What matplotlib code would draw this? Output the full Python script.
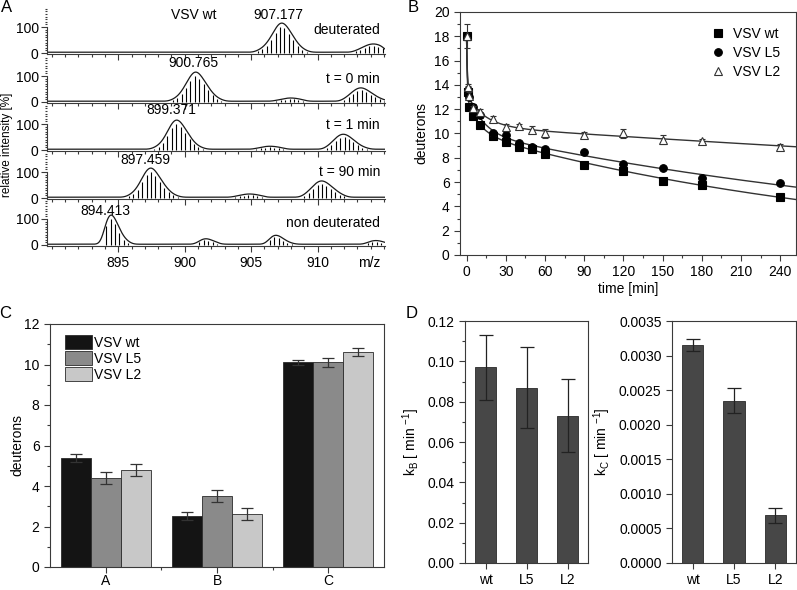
import numpy as np
import matplotlib
matplotlib.use('Agg')
import matplotlib.pyplot as plt
from matplotlib.ticker import MultipleLocator, FormatStrFormatter
from matplotlib.lines import Line2D
from matplotlib.patches import Patch

plt.rcParams['font.family'] = ['Liberation Sans', 'DejaVu Sans']
plt.rcParams['mathtext.fontset'] = 'custom'
plt.rcParams['mathtext.rm'] = 'Liberation Sans'
plt.rcParams['font.size'] = 10

# ---------------- data ----------------
# A: isotope clusters, (m/z of first isotope, stick intensities), spacing 1/3 (z = 3)
iso_step = 1.0 / 3.0
spec_deut = [(905.51, [6, 14, 28, 50, 78, 100, 95, 75, 50, 28, 13, 5]),
             (912.90, [6, 12, 20, 26, 28, 25, 20])]
spec_t0 = [(899.10, [6, 14, 30, 55, 82, 100, 90, 68, 45, 25, 12, 5]),
           (906.90, [3, 6, 9, 11, 10, 8, 5]),
           (912.00, [8, 18, 32, 42, 45, 38, 28, 18, 10, 5])]
spec_t1 = [(897.70, [5, 13, 28, 55, 85, 100, 88, 65, 42, 22, 10, 4]),
           (905.40, [3, 6, 9, 10, 9, 7, 4]),
           (910.70, [8, 20, 36, 48, 50, 42, 30, 18, 9, 4])]
spec_t90 = [(895.79, [6, 15, 32, 60, 88, 100, 85, 62, 40, 22, 10, 4]),
            (903.80, [3, 6, 9, 11, 10, 8, 5]),
            (909.00, [8, 20, 36, 50, 55, 48, 36, 24, 13, 6])]
spec_nondeut = [(894.08, [75, 100, 80, 45, 20, 8]),
                (901.10, [10, 18, 17, 11, 5]),
                (906.40, [18, 30, 27, 17, 8, 3]),
                (913.80, [6, 11, 12, 9, 5])]
spectra = [spec_deut, spec_t0, spec_t1, spec_t90, spec_nondeut]
state_labels = ['deuterated', 't = 0 min', 't = 1 min', 't = 90 min', 'non deuterated']
peak_labels = ['907.177', '900.765', '899.371', '897.459', '894.413']
mz_ticks = [895, 900, 905, 910]

# B: deuteration kinetics
times = [0, 1, 2, 5, 10, 20, 30, 40, 50, 60, 90, 120, 150, 180, 240]
d_wt = [18.0, 13.4, 12.2, 11.4, 10.7, 9.8, 9.3, 8.9, 8.7, 8.3, 7.4, 6.9, 6.05, 5.8, 4.8]
d_L5 = [18.0, 13.6, 13.0, 12.2, 11.5, 10.0, 9.9, 9.2, 8.9, 8.7, 8.5, 7.5, 7.2, 6.3, 5.9]
d_L2 = [18.0, 13.8, 13.1, 12.1, 11.8, 11.2, 10.5, 10.6, 10.3, 10.0, 9.9, 10.0, 9.5, 9.4, 8.9]
e_wt = [0.3, 0.3, 0.2, 0.2, 0.2, 0.2, 0.2, 0.15, 0.15, 0.15, 0.15, 0.15, 0.15, 0.15, 0.1]
e_L5 = [0.3, 0.3, 0.2, 0.2, 0.2, 0.2, 0.2, 0.15, 0.15, 0.15, 0.15, 0.15, 0.15, 0.15, 0.1]
e_L2 = [1.0, 0.3, 0.3, 0.2, 0.2, 0.2, 0.3, 0.2, 0.3, 0.4, 0.2, 0.4, 0.35, 0.15, 0.25]
variants = ['VSV wt', 'VSV L5', 'VSV L2']
k_fast = [1.5, 1.5, 1.5]

# C: amplitudes of the three exchange classes
classes = ['A', 'B', 'C']
amp_wt = [5.4, 2.5, 10.1]
amp_L5 = [4.4, 3.5, 10.1]
amp_L2 = [4.8, 2.6, 10.6]
amp_wt_err = [0.2, 0.2, 0.1]
amp_L5_err = [0.3, 0.3, 0.2]
amp_L2_err = [0.3, 0.3, 0.2]

# D: rate constants
short_names = ['wt', 'L5', 'L2']
kB = [0.097, 0.087, 0.073]
kB_err = [0.016, 0.020, 0.018]
kC = [0.00315, 0.00235, 0.00069]
kC_err = [0.00009, 0.00018, 0.00011]

# ---------------- layout ----------------
W, H = 797, 590
fig = plt.figure(figsize=(W / 100, H / 100), dpi=100)
AX_COL = '#3a3a3a'


def add_ax(left, top, right, bottom):
    return fig.add_axes([left / W, 1 - bottom / H, (right - left) / W, (bottom - top) / H])


def style(ax):
    for s in ax.spines.values():
        s.set_color(AX_COL)
        s.set_linewidth(0.8)
    ax.tick_params(which='both', direction='out', color=AX_COL, width=0.8)
    ax.tick_params(which='major', length=4)
    ax.tick_params(which='minor', length=2.5)


# ---------------- A ----------------
baselines = [53, 102, 150, 198, 245]
px_per_unit = 0.26
ylo, yhi = -4, 176
mz = np.linspace(889.63, 915.08, 3000)
sigma = 0.28
for i, spec in enumerate(spectra):
    b = baselines[i]
    ax = add_ax(47, b - yhi * px_per_unit, 385, b - ylo * px_per_unit)
    style(ax)
    env = np.zeros_like(mz)
    for first, ints in spec:
        pos = first + iso_step * np.arange(len(ints))
        ax.vlines(pos, 0, ints, color='black', lw=0.8)
        for p, v in zip(pos, ints):
            env += v * np.exp(-(mz - p) ** 2 / (2 * sigma ** 2))
    env = env * 112 / env.max() + 3
    ax.plot(mz, env, color='#1a1a1a', lw=0.9)
    ax.set_xlim(889.63, 915.08)
    ax.set_ylim(ylo, yhi)
    ax.spines['top'].set_visible(False)
    ax.spines['right'].set_visible(False)
    ax.spines['left'].set_bounds(ylo, 100)
    ax.set_yticks([0, 100])
    ax.yaxis.set_minor_locator(MultipleLocator(10))
    ax.set_xticks(mz_ticks)
    ax.xaxis.set_minor_locator(MultipleLocator(1))
    ax.tick_params(axis='y', which='minor', length=1.5)
    ax.tick_params(axis='y', pad=2)
    ax.patch.set_alpha(0)
    if i < 4:
        ax.tick_params(axis='x', labelbottom=False)
    else:
        ax.text(0.985, -0.37, 'm/z', transform=ax.transAxes, ha='right', va='center')
    ax.text(0.985, [88, 88, 96, 100, 85][i], state_labels[i],
            transform=ax.get_yaxis_transform(), ha='right', va='center')
    ax.text([907.03, 900.62, 898.97, 897.0, 894.0][i], [146, 150, 154, 146, 131][i],
            peak_labels[i], ha='center', va='center')
    if i == 0:
        ax.text(900.65, 146, 'VSV wt', ha='center', va='center')

fig.text(7 / W, 1 - 145 / H, 'relative intensity [%]', rotation=90, ha='center', va='center',
         fontsize=8.5)

# ---------------- B ----------------
axB = add_ax(460, 12, 796, 255)
style(axB)
tfit = np.concatenate([np.linspace(0, 5, 400), np.linspace(5, 252, 600)])
amps = [amp_wt, amp_L5, amp_L2]
for j in range(3):
    a, b_, c = amps[j]
    fit = a * np.exp(-k_fast[j] * tfit) + b_ * np.exp(-kB[j] * tfit) + c * np.exp(-kC[j] * tfit)
    axB.plot(tfit, fit, color='#333333', lw=1.0, zorder=2)
mk = [('s', 'black', 'black'), ('o', 'black', 'black'), ('^', 'white', '#333333')]
for j, (d, e) in enumerate([(d_wt, e_wt), (d_L5, e_L5), (d_L2, e_L2)]):
    m, fc, ec = mk[j]
    axB.errorbar(times, d, yerr=e, fmt=m, ms=5.5 if m != '^' else 6, mfc=fc, mec=ec,
                 mew=0.8, ecolor='#333333', elinewidth=0.8, capsize=2, zorder=3 + j)
axB.set_xlim(-5, 252)
axB.set_ylim(0, 20)
axB.xaxis.set_major_locator(MultipleLocator(30))
axB.xaxis.set_minor_locator(MultipleLocator(15))
axB.yaxis.set_major_locator(MultipleLocator(2))
axB.yaxis.set_minor_locator(MultipleLocator(1))
axB.set_xlabel('time [min]', labelpad=2)
axB.set_ylabel('deuterons', labelpad=4)
hB = [Line2D([], [], ls='none', marker=m, ms=5.5 if m != '^' else 6, mfc=fc, mec=ec, mew=0.8)
      for m, fc, ec in mk]
axB.legend(hB, variants, loc='upper right', bbox_to_anchor=(0.97, 0.96), frameon=False,
           handlelength=1.0, handletextpad=0.6, labelspacing=0.35, borderaxespad=0,
           fontsize=10)

# ---------------- C ----------------
axC = add_ax(50, 324, 384, 567)
style(axC)
xc = np.arange(1, 4)
wbar = 0.27
cols = ['#141414', '#8a8a8a', '#c8c8c8']
for j, (vals, errs) in enumerate([(amp_wt, amp_wt_err), (amp_L5, amp_L5_err), (amp_L2, amp_L2_err)]):
    axC.bar(xc + (j - 1) * wbar, vals, wbar, yerr=errs, color=cols[j], edgecolor='#2a2a2a',
            lw=0.6, error_kw=dict(ecolor='#333333', elinewidth=0.9, capsize=4, capthick=0.9))
axC.set_xlim(0.5, 3.5)
axC.set_ylim(0, 12)
axC.set_xticks(xc)
axC.set_xticklabels(classes)
axC.set_xticks([1.5, 2.5], minor=True)
axC.tick_params(axis='x', pad=1)
axC.yaxis.set_major_locator(MultipleLocator(2))
axC.yaxis.set_minor_locator(MultipleLocator(1))
axC.set_ylabel('deuterons', labelpad=0)
hC = [Patch(facecolor=c, edgecolor='#2a2a2a', lw=0.6) for c in cols]
axC.legend(hC, variants, loc='upper left', bbox_to_anchor=(0.045, 0.955), frameon=False,
           handlelength=1.95, handleheight=1.15, handletextpad=0.15, labelspacing=0.1,
           borderaxespad=0, borderpad=0, fontsize=10)

# ---------------- D ----------------
xd = np.arange(1, 4)
axD1 = add_ax(465, 321, 588, 563)
style(axD1)
axD1.bar(xd, kB, 0.52, yerr=kB_err, color='#474747', edgecolor='#2a2a2a', lw=0.6,
         error_kw=dict(ecolor='#222222', elinewidth=0.9, capsize=5, capthick=0.9))
axD1.set_xlim(0.5, 3.5)
axD1.set_ylim(0, 0.12)
axD1.set_xticks(xd)
axD1.set_xticklabels(short_names)
axD1.yaxis.set_major_locator(MultipleLocator(0.02))
axD1.yaxis.set_minor_locator(MultipleLocator(0.01))
axD1.yaxis.set_major_formatter(FormatStrFormatter('%.2f'))
axD1.set_ylabel(r'k$_\mathregular{B}$ [ min $^\mathregular{-1}$]')

axD2 = add_ax(672, 321, 796, 563)
style(axD2)
axD2.bar(xd, kC, 0.52, yerr=kC_err, color='#474747', edgecolor='#2a2a2a', lw=0.6,
         error_kw=dict(ecolor='#222222', elinewidth=0.9, capsize=5, capthick=0.9))
axD2.set_xlim(0.5, 3.5)
axD2.set_ylim(0, 0.0035)
axD2.set_xticks(xd)
axD2.set_xticklabels(short_names)
axD2.yaxis.set_major_locator(MultipleLocator(0.0005))
axD2.yaxis.set_major_formatter(FormatStrFormatter('%.4f'))
axD2.set_ylabel(r'k$_\mathregular{C}$ [ min $^\mathregular{-1}$]')

# panel letters
for lab, x, y in [('A', 7, 8), ('B', 413, 8), ('C', 5, 314), ('D', 412, 314)]:
    fig.text(x / W, 1 - y / H, lab, ha='center', va='center', fontsize=12)

fig.savefig('out.png', dpi=100)
